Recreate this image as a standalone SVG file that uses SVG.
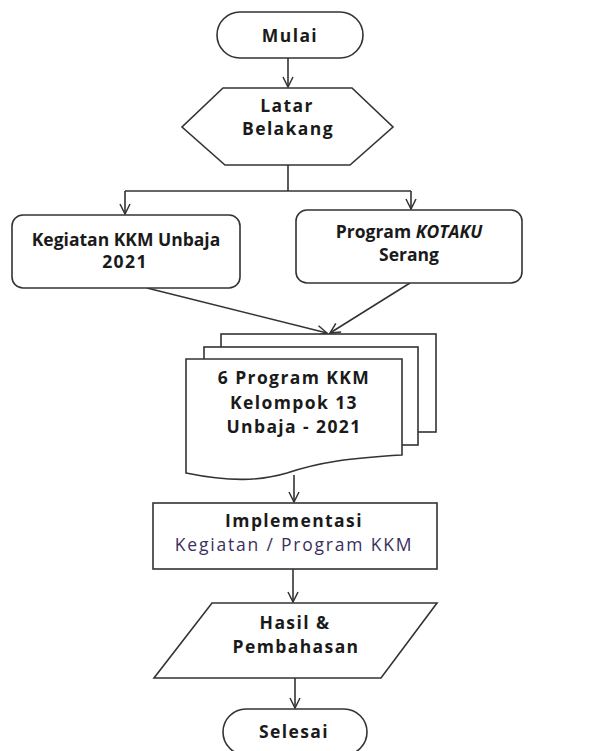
<svg xmlns="http://www.w3.org/2000/svg" width="607" height="751" viewBox="0 0 607 751">
<defs>
<marker id="arr" viewBox="0 0 12 12" refX="11" refY="6" markerWidth="12" markerHeight="12" markerUnits="userSpaceOnUse" orient="auto">
<polyline points="1,1 11,6 1,11" fill="none" stroke="#333" stroke-width="1.5"/>
</marker>
<style>
.s{fill:#fff;stroke:#333;stroke-width:1.6}
.c{fill:none;stroke:#333;stroke-width:1.6}
.t{font-family:"Open Sans",Lato,sans-serif;font-size:17.5px;font-weight:bold;fill:#1a1a1a;text-anchor:middle;letter-spacing:1.4px}
.n{font-weight:normal;fill:#3b2f5e;letter-spacing:1.8px}
.z{letter-spacing:0}
</style>
</defs>
<rect width="607" height="751" fill="#fff"/>
<g id="connectors">
<line class="c" x1="288" y1="58" x2="288" y2="87" marker-end="url(#arr)"/>
<polyline class="c" points="288,165 288,191"/>
<polyline class="c" points="125,191 411,191"/>
<line class="c" x1="125" y1="191" x2="125" y2="214" marker-end="url(#arr)"/>
<line class="c" x1="411" y1="191" x2="411" y2="209" marker-end="url(#arr)"/>
<line class="c" x1="147" y1="288" x2="327" y2="333" marker-end="url(#arr)"/>
<line class="c" x1="410" y1="283" x2="330" y2="333" marker-end="url(#arr)"/>
<line class="c" x1="294" y1="475" x2="294" y2="502" marker-end="url(#arr)"/>
<line class="c" x1="293" y1="569" x2="293" y2="602" marker-end="url(#arr)"/>
<line class="c" x1="295" y1="678" x2="295" y2="708" marker-end="url(#arr)"/>
</g>
<g id="mulai">
<rect class="s" x="217" y="12" width="146" height="46" rx="23"/>
<text class="t" x="290" y="42" letter-spacing="2">Mulai</text>
</g>
<g id="latar">
<polygon class="s" points="223,88 352,88 393,127 350,165 225,165 182,127"/>
<text class="t" x="287" y="112" letter-spacing="0.5">Latar</text>
<text class="t" x="288" y="135" letter-spacing="1.1">Belakang</text>
</g>
<g id="kegiatan">
<rect class="s" x="12" y="215" width="228" height="73" rx="11"/>
<text class="t z" x="126" y="246">Kegiatan KKM Unbaja</text>
<text class="t" x="125" y="268" letter-spacing="1.2">2021</text>
</g>
<g id="kotaku">
<rect class="s" x="296" y="210" width="226" height="73" rx="11"/>
<text class="t z" x="409" y="238">Program <tspan font-style="italic">KOTAKU</tspan></text>
<text class="t z" x="409" y="261">Serang</text>
</g>
<g id="dokumen">
<rect class="s" x="221" y="334" width="215" height="98"/>
<rect class="s" x="204" y="347" width="214" height="98"/>
<path class="s" d="M186,359 H402 V455 C350,458 320,462 287,473 C260,481 230,482 186,473 Z"/>
<text class="t" x="294" y="384" letter-spacing="1.8">6 Program KKM</text>
<text class="t" x="294" y="409">Kelompok 13</text>
<text class="t" x="294" y="433" letter-spacing="1.6">Unbaja - 2021</text>
</g>
<g id="implementasi">
<rect class="s" x="153" y="503" width="284" height="66"/>
<text class="t" x="294" y="527" letter-spacing="1.5">Implementasi</text>
<text class="t n" x="294" y="551">Kegiatan / Program KKM</text>
</g>
<g id="hasil">
<polygon class="s" points="212,603 437,603 381,678 154,678"/>
<text class="t" x="295" y="629">Hasil &amp;</text>
<text class="t" x="296" y="653" letter-spacing="1.7">Pembahasan</text>
</g>
<g id="selesai">
<rect class="s" x="223" y="709" width="144" height="46" rx="23"/>
<text class="t" x="294" y="738" letter-spacing="1">Selesai</text>
</g>
</svg>
